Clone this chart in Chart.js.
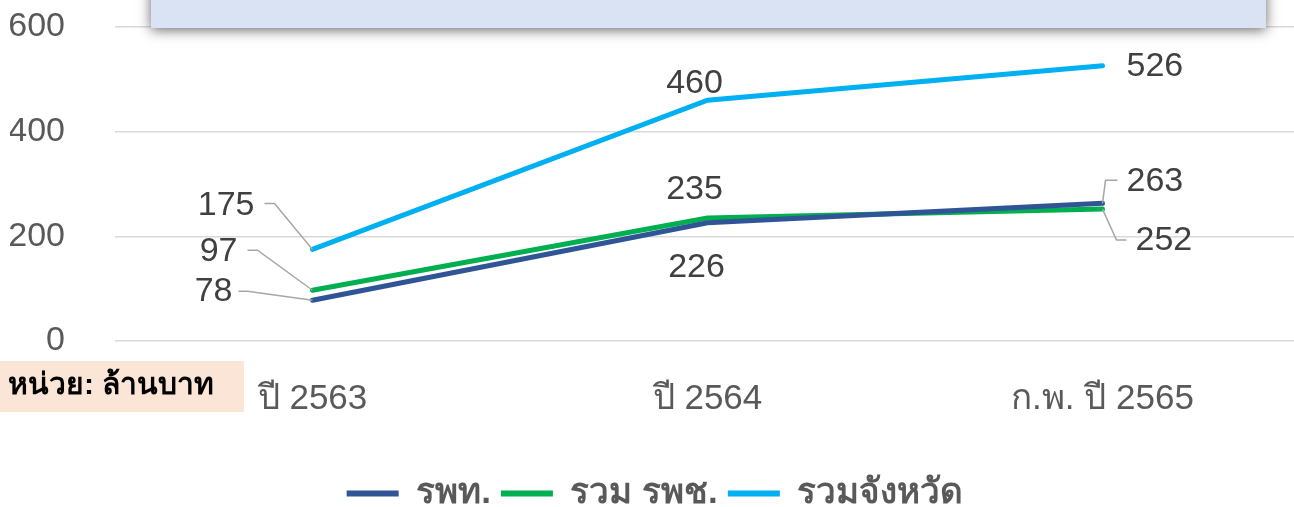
<!DOCTYPE html>
<html>
<head>
<meta charset="utf-8">
<script src="https://cdn.jsdelivr.net/npm/chart.js@4.4.1/dist/chart.umd.min.js"></script>
<style>
  html, body { margin: 0; padding: 0; background: #fff; overflow: hidden; }
  #wrap { width: 1300px; height: 507px; }
</style>
</head>
<body>
<div id="wrap"><canvas id="lineChart"></canvas></div>
<script>
// data
const categories = ["ปี 2563", "ปี 2564", "ก.พ. ปี 2565"];
const seriesNames = ["รพท.", "รวม รพช.", "รวมจังหวัด"];
const rptValues = [78, 226, 263];
const rpchValues = [97, 235, 252];
const provinceValues = [175, 460, 526];
const yTicks = [0, 200, 400, 600];
const unitText = "หน่วย: ล้านบาท";

const colors = ['#2F5597', '#00B050', '#00B0F0'];
const numFont = "'Liberation Sans', Arial, sans-serif";

// where each value label sits relative to its point (style only)
const labelStyle = [
  [ { dx: -80, dy: -9, align: 'right', leader: [[-65, -9], [-74, -9]] },
    { dx: -11, dy: 45, align: 'center' },
    { dx: 24, dy: -22, align: 'left', leader: [[3, -23], [15, -23]] } ],
  [ { dx: -75, dy: -39, align: 'right', leader: [[-55, -40], [-65, -40]] },
    { dx: -13, dy: -28, align: 'center' },
    { dx: 33, dy: 32, align: 'left', leader: [[14, 31], [24, 31]] } ],
  [ { dx: -58, dy: -44, align: 'right', leader: [[-38, -46], [-48, -46]] },
    { dx: -13, dy: -17, align: 'center' },
    { dx: 24, dy: 1, align: 'left' } ]
];

const valueLabels = {
  id: 'valueLabels',
  afterDatasetsDraw(chart) {
    const ctx = chart.ctx;
    ctx.save();
    chart.data.datasets.forEach((ds, i) => {
      chart.getDatasetMeta(i).data.forEach((pt, j) => {
        const s = labelStyle[i][j];
        if (s.leader) {
          ctx.beginPath();
          ctx.strokeStyle = '#A6A6A6';
          ctx.lineWidth = 1.5;
          ctx.moveTo(pt.x, pt.y);
          s.leader.forEach(p => ctx.lineTo(pt.x + p[0], pt.y + p[1]));
          ctx.stroke();
        }
        ctx.fillStyle = '#404040';
        ctx.font = '34px ' + numFont;
        ctx.textAlign = s.align;
        ctx.textBaseline = 'middle';
        ctx.fillText(ds.data[j], pt.x + s.dx, pt.y + s.dy);
      });
    });
    ctx.restore();
  }
};

// title box (cut off at top) and unit box
const boxes = {
  id: 'boxes',
  afterDraw(chart) {
    const ctx = chart.ctx;
    ctx.save();
    ctx.shadowColor = 'rgba(0,0,0,0.6)';
    ctx.shadowBlur = 12;
    ctx.shadowOffsetY = 2;
    ctx.fillStyle = '#DAE3F3';
    ctx.fillRect(151, -20, 1115, 48);
    ctx.restore();

    ctx.save();
    ctx.fillStyle = '#FBE5D6';
    ctx.fillRect(0, 361, 244, 51);
    ctx.fillStyle = '#000';
    ctx.font = "bold 30px 'Liberation Sans', sans-serif";
    ctx.textBaseline = 'middle';
    ctx.textAlign = 'left';
    ctx.fillText(unitText, 8, 386);
    ctx.restore();
  }
};

const chart = new Chart(document.getElementById('lineChart'), {
  type: 'line',
  data: {
    labels: categories,
    datasets: [rptValues, rpchValues, provinceValues].map((vals, i) => ({
      label: seriesNames[i],
      data: vals,
      borderColor: colors[i],
      backgroundColor: colors[i],
      borderWidth: 5,
      pointRadius: 0,
      tension: 0,
      borderCapStyle: 'round'
    }))
  },
  options: {
    responsive: true,
    maintainAspectRatio: false,
    animation: false,
    layout: { padding: { top: 0, left: 10, right: 0, bottom: -14 } },
    scales: {
      x: {
        offset: true,
        grid: { display: false },
        border: { display: false },
        afterFit: axis => { axis.height = 125; },
        ticks: { color: '#595959', font: { size: 35, family: numFont }, padding: 29, maxRotation: 0 }
      },
      y: {
        min: 0,
        max: 600,
        afterBuildTicks: axis => { axis.ticks = yTicks.map(v => ({ value: v })); },
        afterFit: axis => {
          axis.width = 105;
          // tick padding would otherwise push the plot down
          axis.paddingTop = 27;
          axis.paddingBottom = 10;
        },
        grid: { color: '#D9D9D9', lineWidth: 1.5, drawTicks: false },
        border: { display: false },
        ticks: { color: '#595959', font: { size: 34, family: numFont }, padding: 50 }
      }
    },
    plugins: {
      legend: {
        position: 'bottom',
        labels: {
          boxWidth: 52,
          boxHeight: 6,
          padding: 10,
          color: '#595959',
          font: { size: 35, weight: 'bold', family: numFont },
          generateLabels: c => Chart.defaults.plugins.legend.labels.generateLabels(c)
            .map(l => Object.assign(l, { lineWidth: 0 }))
        }
      },
      tooltip: { enabled: false }
    }
  },
  plugins: [valueLabels, boxes]
});
</script>
</body>
</html>
